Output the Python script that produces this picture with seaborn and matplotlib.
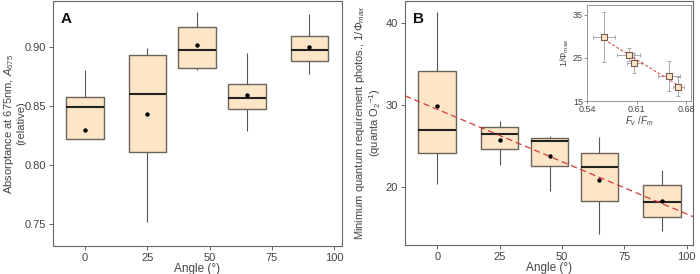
import numpy as np
import pandas as pd
import matplotlib
matplotlib.use("Agg")
import matplotlib.pyplot as plt
import seaborn as sns

# angles of the five treatments
angles = [0, 25, 45, 65, 90]

# panel A: box summaries (min, q1, median, q3, max) and means
a_min = [0.822, 0.752, 0.881, 0.829, 0.8775]
a_q1 = [0.822, 0.811, 0.8826, 0.848, 0.888]
a_med = [0.849, 0.8606, 0.8975, 0.8573, 0.8978]
a_q3 = [0.858, 0.8938, 0.9169, 0.8688, 0.9096]
a_max = [0.881, 0.8997, 0.9296, 0.8952, 0.9282]
a_mean = [0.830, 0.8434, 0.9017, 0.8598, 0.900]

# panel B: minimum quantum requirement
b_min = [20.3, 22.66, 19.47, 14.2, 14.57]
b_q1 = [24.17, 24.6, 22.59, 18.33, 16.3]
b_med = [26.96, 26.48, 25.62, 22.47, 18.13]
b_q3 = [34.08, 27.24, 25.9, 24.17, 20.2]
b_max = [41.34, 27.97, 26.15, 26.06, 22.1]
b_mean = [29.88, 25.75, 23.8, 20.8, 18.33]

# inset: Fv/Fm against 1/phi_max (means of panel B)
fvfm = [0.564, 0.599, 0.607, 0.656, 0.669]
fvfm_err = [0.015, 0.016, 0.01, 0.016, 0.008]
phi_err = [5.7, 1.5, 2.3, 3.4, 2.2]

box_face = "#fde5c8"
box_edge = "#6e6357"
txt = "#444444"


def long_table(lo, q1, med, q3, hi):
    rows = []
    for i, ang in enumerate(angles):
        for v in (lo[i], q1[i], med[i], q3[i], hi[i]):
            rows.append({"angle": ang, "value": v})
    return pd.DataFrame(rows)


sns.set_style("ticks")
plt.rcParams["font.family"] = ["Liberation Sans", "DejaVu Sans"]
plt.rcParams["mathtext.fontset"] = "custom"
plt.rcParams["mathtext.rm"] = "Liberation Sans"
plt.rcParams["mathtext.it"] = "Liberation Sans:italic"
plt.rcParams["axes.edgecolor"] = "#666666"
plt.rcParams["xtick.color"] = "#666666"
plt.rcParams["ytick.color"] = "#666666"
plt.rcParams["xtick.labelcolor"] = txt
plt.rcParams["ytick.labelcolor"] = txt
plt.rcParams["axes.labelcolor"] = txt

fig = plt.figure(figsize=(7, 2.74), dpi=100)
axA = fig.add_axes([0.0757, 0.102, 0.4129, 0.895])
axB = fig.add_axes([0.5786, 0.106, 0.4114, 0.891])
axI = fig.add_axes([0.8386, 0.631, 0.1486, 0.351])

box_kw = dict(x="angle", y="value", native_scale=True, whis=np.inf, width=0.75,
              showcaps=False, fill=True, color=box_face, linewidth=1.0,
              boxprops=dict(facecolor=box_face, edgecolor=box_edge),
              whiskerprops=dict(color="#555555", linewidth=0.8),
              medianprops=dict(color="#222222", linewidth=1.5))

lab_fs = 8.0

dfA = long_table(a_min, a_q1, a_med, a_q3, a_max)
sns.boxplot(data=dfA, ax=axA, **box_kw)
sns.scatterplot(x=angles, y=a_mean, ax=axA, color="black", s=10, linewidth=0, zorder=5)
axA.set_xlim(-12.8, 103.1)
axA.set_ylim(0.7314, 0.9394)
axA.set_xticks([0, 25, 50, 75, 100])
axA.set_yticks([0.75, 0.80, 0.85, 0.90])
axA.set_yticklabels(["0.75", "0.80", "0.85", "0.90"])
axA.set_xlabel("Angle (°)", fontsize=8.5, labelpad=0)
axA.set_ylabel("Absorptance at 675nm, $A_{675}$\n(relative)", fontsize=lab_fs, linespacing=1.05)
axA.yaxis.set_label_coords(-0.093, 0.5)
axA.text(0.028, 0.955, "A", transform=axA.transAxes, fontsize=11, fontweight="bold",
         va="top", color="#111111")

dfB = long_table(b_min, b_q1, b_med, b_q3, b_max)
sns.boxplot(data=dfB, ax=axB, **box_kw)
sns.scatterplot(x=angles, y=b_mean, ax=axB, color="black", s=10, linewidth=0, zorder=5)
slope, icpt = np.polyfit(angles, b_mean, 1)
axB.axline((0, icpt), slope=slope, color="#d43a3a", ls=(0, (5, 3)), lw=0.9, zorder=6)
axB.set_xlim(-12.9, 102.5)
axB.set_ylim(12.92, 42.67)
axB.set_xticks([0, 25, 50, 75, 100])
axB.set_yticks([20, 30, 40])
axB.set_xlabel("Angle (°)", fontsize=8.5, labelpad=0)
axB.set_ylabel("Minimum quantum requirement photos., 1/$\\Phi_{max}$\n(quanta O$_2$$^{-1}$)",
               fontsize=lab_fs, linespacing=1.05)
axB.yaxis.set_label_coords(-0.075, 0.5)
axB.text(0.028, 0.955, "B", transform=axB.transAxes, fontsize=11, fontweight="bold",
         va="top", color="#111111")

for ax in (axA, axB):
    ax.tick_params(labelsize=8, length=3, width=0.7, pad=2)
    for sp in ax.spines.values():
        sp.set_visible(True)
        sp.set_linewidth(0.8)

# inset
axI.errorbar(fvfm, b_mean, xerr=fvfm_err, yerr=phi_err, fmt="none",
             ecolor="#aaaaaa", elinewidth=0.7, capsize=1.2, capthick=0.7, zorder=2)
sns.regplot(x=fvfm, y=b_mean, ax=axI, scatter=False, ci=None, truncate=True,
            line_kws=dict(color="#d43a3a", ls=(0, (3, 2)), lw=0.7, zorder=3))
sns.scatterplot(x=fvfm, y=b_mean, ax=axI, marker="s", s=22, color=box_face,
                edgecolor="#7a5a4a", linewidth=0.8, zorder=4)
axI.set_xlim(0.54, 0.687)
axI.set_ylim(15, 37.3)
axI.set_xticks([0.54, 0.61, 0.68])
axI.set_yticks([15, 25, 35])
axI.tick_params(labelsize=6.5, length=2, width=0.5, pad=1)
axI.set_xlabel("$F_v$ /$F_m$", fontsize=7, labelpad=0)
axI.set_ylabel("1/$\\Phi_{max}$", fontsize=6.5, labelpad=1)
for sp in axI.spines.values():
    sp.set_visible(True)
    sp.set_linewidth(0.6)
    sp.set_color("#888888")

fig.savefig("out.png", dpi=100)
